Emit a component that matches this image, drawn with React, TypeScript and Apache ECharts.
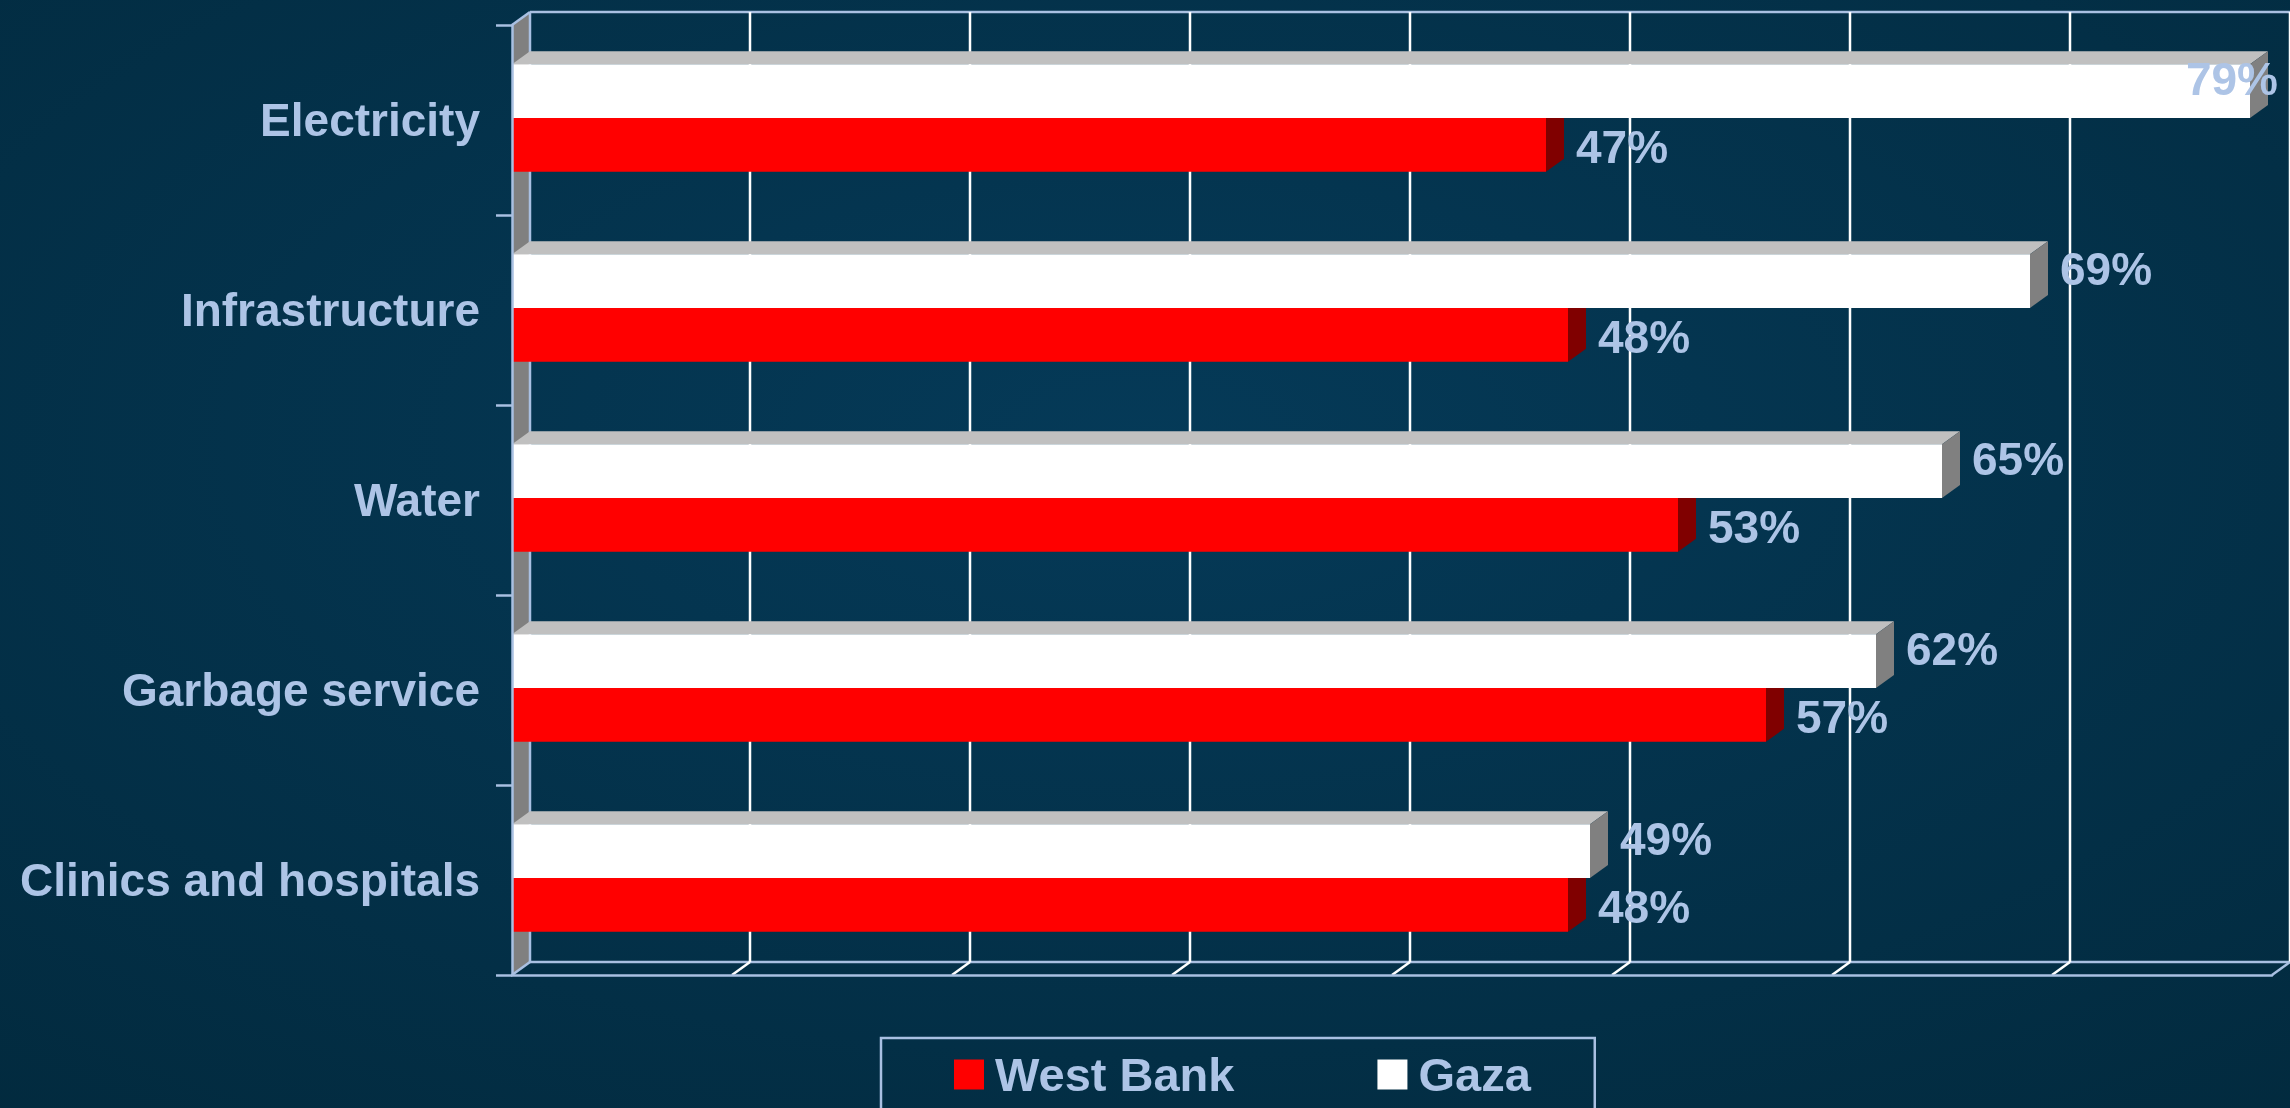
import React, { useEffect, useRef } from 'react';
import * as echarts from 'echarts';

const categories = ['Electricity', 'Infrastructure', 'Water', 'Garbage service', 'Clinics and hospitals'];
const westBank = [47, 48, 53, 57, 48];
const gaza = [79, 69, 65, 62, 49];
const xTicks = [0, 10, 20, 30, 40, 50, 60, 70, 80];
const seriesNames = ['West Bank', 'Gaza'];

const DX = 18;
const DY = 13;
const LINE = '#a9c0e2';
const TEXT = '#adc4e6';
const FONT = '"Liberation Sans", Arial, sans-serif';

function barRenderer(kind: 'red' | 'white') {
  const front = kind === 'red' ? '#ff0000' : '#ffffff';
  const top = kind === 'red' ? '#c00000' : '#c0c0c0';
  const side = kind === 'red' ? '#800000' : '#808080';
  return (params: any, api: any) => {
    const v = api.value(0);
    const ci = api.value(1);
    const p0 = api.coord([0, ci]);
    const p1 = api.coord([v, ci]);
    const band = api.size([0, 1])[1];
    const h = band * 0.283;
    const c = p0[1] - 2;
    const y0 = kind === 'white' ? c - h : c;
    const y1 = y0 + h;
    const x0 = p0[0];
    const x1 = p1[0];
    const vw = api.getWidth();
    let lx = x1 + DX + 12;
    let align = 'left';
    if (lx + 96 > vw - 8) {
      lx = vw - 12;
      align = 'right';
    }
    const ly = (y0 + y1) / 2 + (kind === 'white' ? -12 : 2);
    return {
      type: 'group',
      children: [
        { type: 'polygon', shape: { points: [[x0, y0], [x1, y0], [x1 + DX, y0 - DY], [x0 + DX, y0 - DY]] }, style: { fill: top } },
        { type: 'polygon', shape: { points: [[x1, y0], [x1 + DX, y0 - DY], [x1 + DX, y1 - DY], [x1, y1]] }, style: { fill: side } },
        { type: 'rect', shape: { x: x0, y: y0, width: x1 - x0, height: h }, style: { fill: front } },
        {
          type: 'text', x: lx, y: ly,
          style: { text: v + '%', fill: TEXT, font: `bold 46px ${FONT}`, align, verticalAlign: 'middle' },
        },
      ],
    };
  };
}

function wallRenderer(params: any, api: any) {
  const v = api.value(0);
  const cs = params.coordSys;
  const top = cs.y;
  const bottom = cs.y + cs.height;
  const left = cs.x;
  const right = cs.x + cs.width;
  const x = api.coord([v, 0])[0];
  const children: any[] = [];
  const isFirst = params.dataIndex === 0;
  const isLast = params.dataIndex === xTicks.length - 1;
  if (isFirst) {
    children.push({
      type: 'polygon',
      shape: { points: [[left, top], [left + DX, top - DY], [left + DX, bottom - DY], [left, bottom]] },
      style: { fill: '#808080' },
    });
    children.push({ type: 'line', shape: { x1: left + DX, y1: top - DY, x2: right + DX, y2: top - DY }, style: { stroke: LINE, lineWidth: 2.5 } });
    children.push({ type: 'line', shape: { x1: left + DX, y1: bottom - DY, x2: right + DX, y2: bottom - DY }, style: { stroke: LINE, lineWidth: 2.5 } });
    children.push({ type: 'line', shape: { x1: left, y1: top, x2: left + DX, y2: top - DY }, style: { stroke: LINE, lineWidth: 2.5 } });
  }
  const col = isFirst || isLast ? LINE : '#ffffff';
  children.push({ type: 'line', shape: { x1: x + DX, y1: top - DY, x2: x + DX, y2: bottom - DY }, style: { stroke: isFirst ? LINE : '#ffffff', lineWidth: 2.5 } });
  children.push({ type: 'line', shape: { x1: x, y1: bottom, x2: x + DX, y2: bottom - DY }, style: { stroke: col, lineWidth: 2.5 } });
  return { type: 'group', children };
}

export default function App() {
  const ref = useRef<HTMLDivElement>(null);
  useEffect(() => {
    if (!ref.current) return;
    const chart = echarts.init(ref.current, undefined, { renderer: 'svg' });
    chart.setOption({
      animation: false,
      backgroundColor: {
        type: 'radial', x: 0.5, y: 0.4, r: 0.8,
        colorStops: [
          { offset: 0, color: '#053a58' },
          { offset: 1, color: '#022a3e' },
        ],
      },
      grid: { left: 512, top: 25, width: 1760, height: 950, containLabel: false },
      xAxis: {
        type: 'value', min: 0, max: 80, interval: 10, z: 5,
        axisLine: { show: true, lineStyle: { color: LINE, width: 2.5 } },
        axisTick: { show: false },
        axisLabel: { show: false },
        splitLine: { show: false },
      },
      yAxis: {
        type: 'category', inverse: true, data: categories, z: 5,
        axisLine: { show: true, lineStyle: { color: LINE, width: 2.5 } },
        axisTick: { show: true, length: 16, lineStyle: { color: LINE, width: 2.5 } },
        axisLabel: { color: TEXT, fontSize: 46, fontWeight: 'bold', fontFamily: FONT, margin: 32 },
      },
      legend: {
        data: seriesNames,
        left: 881, top: 1038,
        padding: [13, 64, 30, 73],
        borderColor: LINE, borderWidth: 2.5,
        itemWidth: 30, itemHeight: 30, itemGap: 143,
        icon: 'rect',
        textStyle: { color: TEXT, fontSize: 47, lineHeight: 34, fontWeight: 'bold', fontFamily: FONT, padding: [0, 0, 0, 6] },
      },
      series: [
        {
          type: 'custom', name: 'walls', z: 1, silent: true,
          data: xTicks.map((t) => [t]),
          encode: { x: 0 },
          renderItem: wallRenderer,
        },
        {
          type: 'custom', name: seriesNames[0], z: 2,
          itemStyle: { color: '#ff0000' },
          data: westBank.map((v, i) => [v, i]),
          encode: { x: 0, y: 1 },
          renderItem: barRenderer('red'),
        },
        {
          type: 'custom', name: seriesNames[1], z: 3,
          itemStyle: { color: '#ffffff' },
          data: gaza.map((v, i) => [v, i]),
          encode: { x: 0, y: 1 },
          renderItem: barRenderer('white'),
        },
      ],
    });
    return () => chart.dispose();
  }, []);
  return <div ref={ref} style={{ position: 'fixed', left: 0, top: 0, width: '2290px', height: '1108px' }} />;
}
